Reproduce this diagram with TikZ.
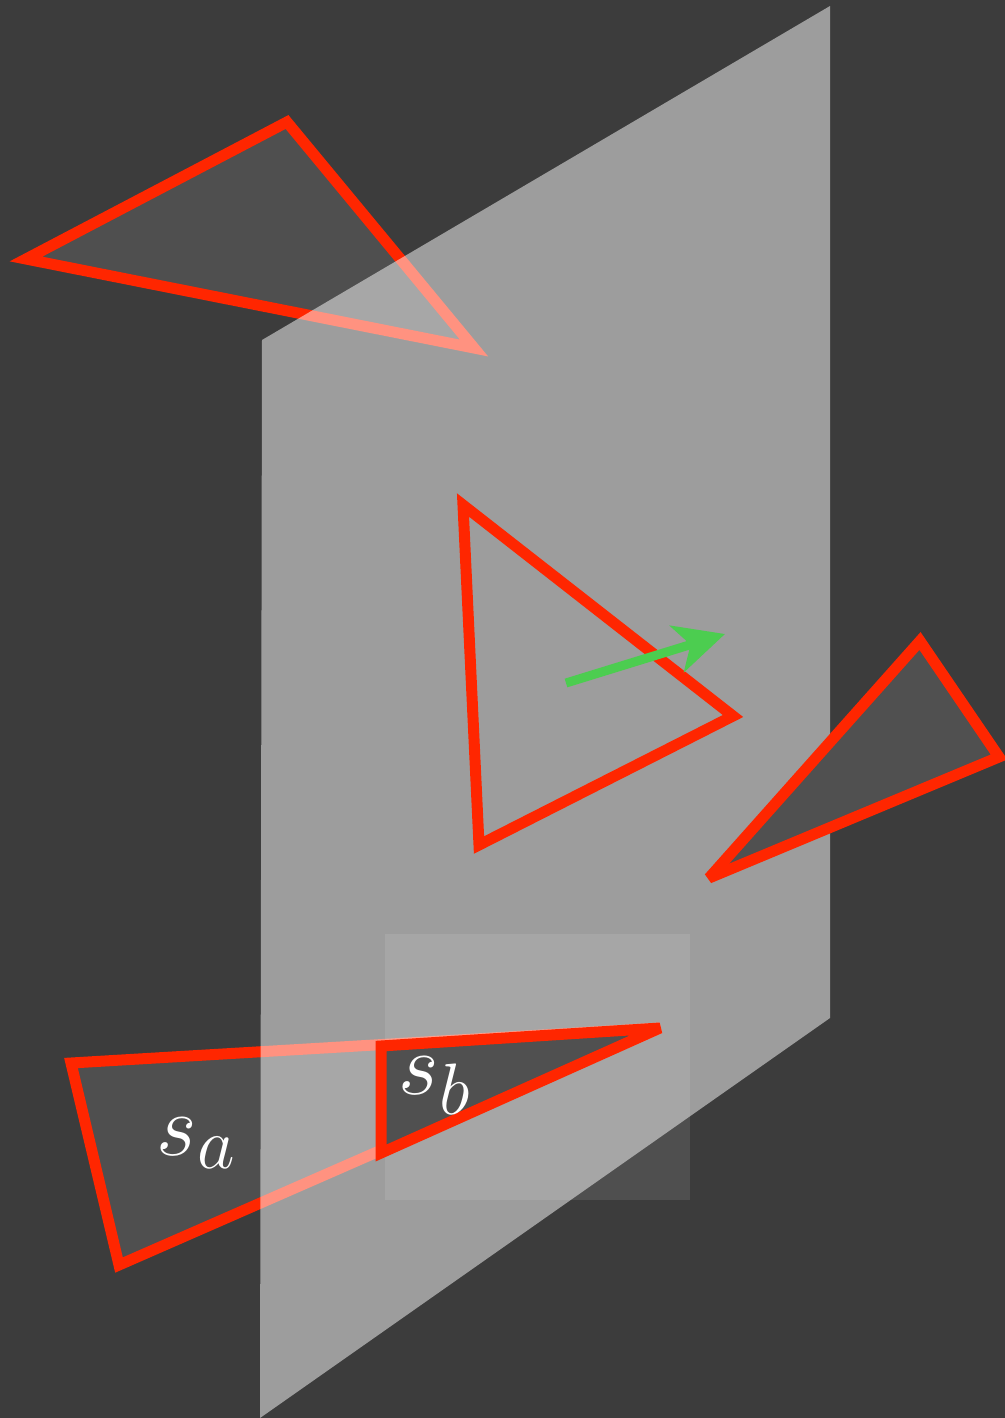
\documentclass[tikz,border=0pt]{standalone}
\usetikzlibrary{arrows.meta}

\definecolor{bgdark}{HTML}{3C3C3C}
\definecolor{facetred}{HTML}{FF2600}
\definecolor{facetgray}{HTML}{505050}
\definecolor{normalgreen}{HTML}{4CCD50}

\tikzset{
    facet/.style={draw=facetred, line width=1.1mm, miter limit=4, fill=white, fill opacity=0.1},
    facet front/.style={draw=facetred, line width=1.1mm, miter limit=4, fill=facetgray},
    facet label/.style={white, inner sep=0pt, anchor=base west, font=\fontsize{28}{32}\selectfont},
}

\begin{document}
\begin{tikzpicture}[x=0.1mm, y=-0.1mm]
        % Canvas
        \clip (0,0) rectangle (1005,1418);
        \fill[bgdark] (0,0) rectangle (1005,1418);

        % Facets behind the plane
        \draw[facet] (26,259) -- (287,122) -- (474,348) -- cycle;
        \draw[facet] (71,1063) -- (660,1028) -- (119,1265) -- cycle;

        % Splitting plane and its patch
        \fill[white, fill opacity=0.5] (262,340) -- (830,6) -- (830,1018) -- (260,1418) -- cycle;
        \fill[white, fill opacity=0.1] (385,934) rectangle (690,1200);

        % Facet in the plane with its normal
        \draw[facetred, line width=1.1mm, miter limit=4] (463,505) -- (733,716) -- (479,845) -- cycle;
        \coordinate (nbase) at (566,683);
        \coordinate (ntip) at (725,634);
        \draw[normalgreen, line width=0.9mm, -{Stealth[length=5mm, width=4.8mm, inset=1.4mm]}] (nbase) -- (ntip);

        % Facets in front of the plane
        \draw[facet front] (920,641) -- (999,757) -- (709,878) -- cycle;
        \draw[facet front] (381,1153) -- (381,1046) -- (660,1028) -- cycle;

        % Labels
        \node[facet label] (sa) at (156,1155) {$s_a$};
        \node[facet label] (sb) at (398,1094) {$s_b$};
    \end{tikzpicture}
\end{document}
